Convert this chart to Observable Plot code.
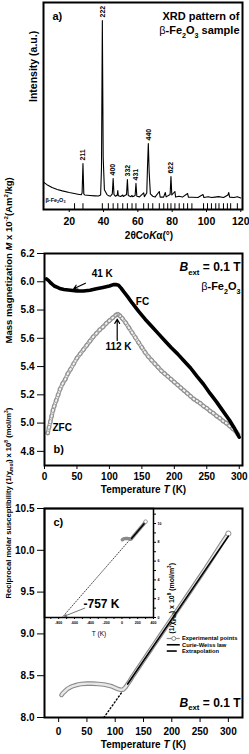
<!DOCTYPE html>
<html><head><meta charset="utf-8">
<script src="https://cdn.jsdelivr.net/npm/d3@7"></script>
<script src="https://cdn.jsdelivr.net/npm/@observablehq/plot@0.6"></script>
<style>
html,body{margin:0;padding:0;background:#fff;}
#chart{position:relative;width:249px;height:754px;overflow:hidden;}
#chart > div{position:absolute;left:0;}
</style></head><body><div id="chart"></div>
<script>
// ---------- Panel a: XRD pattern ----------
const xrdTwoTheta = [5,7,10,13,16,20,23,25,27,27.5,28,28.5,29,32,35,37,38.3,38.8,39.3,39.8,40.5,42,43,44,45.1,45.6,46.1,47,48,48.3,48.6,50,51.2,51.5,53.4,53.9,54.4,56,56.6,57,58.4,58.9,59.4,61,63.4,63.8,65.2,65.6,66.1,66.6,67.3,68.7,70,72.5,73,75,76,76.5,78.8,79.3,79.8,81.6,82,84,86,89,89.5,92,95,98,98.5,101,103,105,107,110,112.5,113,113.5,116,118,120];
const xrdIntensity = [132,120,106,97,90,82,77,74,71,80,222,75,70,68,66,65,70,200,913,250,95,72,66,64,75,150,72,64,70,92,66,63,70,63,72,145,68,62,68,62,68,126,64,61,80,62,80,200,319,180,75,64,60,87,60,60,82,61,72,159,70,87,60,64,60,77,59,59,58,72,58,62,58,60,62,58,70,82,60,58,62,56];
const peakHKL = ["211","222","400","332","431","440","622"];
const peakPos = [28.0,39.3,45.6,53.9,58.9,66.1,79.3];
const peakTop = [222,913,150,145,126,319,159];
const refLines = [23.1,28.0,39.3,42.8,45.6,48.3,51.2,53.9,56.6,58.9,63.4,66.1,68.7,72.5,75.1,77.4,79.3,81.6,84.1,86.7,89.0,91.5,98.3,100.6,102.9,105.4,107.3,109.9,112.2,114.1,118.0];
const xTicksA = [20,40,60,80,100,120];

// ---------- Panel b: FC / ZFC magnetization ----------
const fcT = [3,6,10,15,20,25,30,40,50,60,70,80,90,100,106,110,114,118,122,128,135,145,155,165,175,185,195,205,215,225,235,245,255,265,275,285,293,300];
const fcM = [6.02,6.01,5.99,5.97,5.96,5.95,5.945,5.94,5.935,5.935,5.94,5.95,5.96,5.97,5.98,5.98,5.975,5.955,5.93,5.895,5.85,5.79,5.735,5.685,5.635,5.585,5.535,5.49,5.44,5.39,5.33,5.275,5.21,5.15,5.085,5.02,4.96,4.90];
const zfcT = [5,7,9,11,13,15,18,21,24,28,32,36,40,45,50,55,60,65,70,75,80,85,90,95,100,105,110,113,116,120,125,130,135,140,145,150,155,160,165,170,175,180,185,190,195,200,205,210,215,220,225,230,235,240,245,250,255,260,265,270,275,280,285,290,295,298];
const zfcM = [4.93,4.97,5.01,5.05,5.09,5.12,5.16,5.20,5.24,5.28,5.31,5.35,5.38,5.42,5.46,5.49,5.52,5.55,5.58,5.61,5.635,5.66,5.68,5.705,5.725,5.745,5.765,5.77,5.76,5.74,5.71,5.675,5.64,5.605,5.57,5.535,5.50,5.47,5.445,5.42,5.395,5.37,5.35,5.33,5.31,5.29,5.27,5.25,5.23,5.21,5.19,5.17,5.155,5.14,5.12,5.105,5.085,5.07,5.05,5.035,5.015,5.00,4.98,4.96,4.94,4.92];
const xTicksB = [0,50,100,150,200,250,300];
const yTicksB = [4.8,5.0,5.2,5.4,5.6,5.8,6.0,6.2];

// ---------- Panel c: reciprocal susceptibility ----------
const expT = [5,8,12,16,20,25,30,35,40,50,60,70,80,90,95,100,105,110,114,118,122,126,130,140,150,160,170,180,190,200,210,220,230,240,250,260,270,280,290,300];
const expInv = [8.27,8.295,8.32,8.345,8.36,8.375,8.385,8.395,8.40,8.405,8.405,8.40,8.395,8.38,8.37,8.355,8.34,8.33,8.335,8.36,8.40,8.44,8.485,8.585,8.685,8.785,8.885,8.985,9.085,9.185,9.285,9.385,9.485,9.585,9.685,9.785,9.89,9.995,10.10,10.20];
const cwT = [122,300];
const cwInv = [8.40,10.17];
const extrapT = [80,122];
const extrapInv = [8.0,8.40];
const insetExtrapT = [-757,300];
const insetExtrapInv = [0,10.2];
const xTicksC = [0,50,100,150,200,250,300];
const yTicksC = [8.0,8.5,9.0,9.5,10.0,10.5];
const insetXTicks = [-900,-800,-700,-600,-500,-400,-300,-200,-100,0,100,200,300,400];
const insetYTicks = [0,1,2,3,4,5,6,7,8,9,10,11];
const legendLabels = ["Experimental points","Curie-Weiss law","Extrapolation"];

// ---------- helpers ----------
const FONT = '"Liberation Sans", Arial, Helvetica, sans-serif';
const zip = (a, b, ka, kb) => a.map((v, i) => ({[ka]: v, [kb]: b[i]}));
function svgStyle(fs) {
  return {fontFamily: FONT, fontWeight: "bold", fontSize: fs + "px", background: "transparent", color: "black", overflow: "visible"};
}
// markup: *italic*, _{sub}, ^{sup}, ~normal weight~
function richify(svg) {
  d3.select(svg).selectAll("text").each(function() {
    if (this.querySelector("tspan")) return;
    const s = this.textContent;
    if (!/(\*|_\{|\^\{|~)/.test(s)) return;
    const fs = parseFloat(getComputedStyle(this).fontSize) || 10;
    const parts = s.split(/(\*[^*]*\*|_\{[^}]*\}|\^\{[^}]*\}|~[^~]*~)/).filter(p => p !== "");
    this.textContent = "";
    let shift = 0;
    for (const p of parts) {
      const ts = document.createElementNS("http://www.w3.org/2000/svg", "tspan");
      let target = 0, txt = p, small = false, italic = false, normal = false;
      if (p.startsWith("*")) { txt = p.slice(1, -1); italic = true; }
      else if (p.startsWith("~")) { txt = p.slice(1, -1); normal = true; }
      else if (p.startsWith("_{")) { txt = p.slice(2, -1); target = 0.3 * fs; small = true; }
      else if (p.startsWith("^{")) { txt = p.slice(2, -1); target = -0.38 * fs; small = true; }
      const d = target - shift;
      if (d) ts.setAttribute("dy", d.toFixed(2));
      shift = target;
      if (small) ts.setAttribute("font-size", (0.65 * fs).toFixed(2));
      if (italic) ts.setAttribute("font-style", "italic");
      if (normal) ts.setAttribute("font-weight", "normal");
      ts.textContent = txt;
      this.appendChild(ts);
    }
  });
}
const chart = document.getElementById("chart");
function place(svg, top) {
  const d = document.createElement("div");
  d.style.top = top + "px";
  d.appendChild(svg);
  chart.appendChild(d);
  richify(svg);
}

// ---------- Panel a ----------
const xrd = zip(xrdTwoTheta, xrdIntensity, "t", "I");
const peaks = peakHKL.map((h, i) => ({h, t: peakPos[i], I: peakTop[i]}));
const pa = Plot.plot({
  width: 249, height: 245,
  marginLeft: 43, marginRight: 7, marginTop: 2, marginBottom: 36,
  style: svgStyle(10.5),
  x: {domain: [5, 121], ticks: xTicksA, tickSize: 3, tickPadding: 5, label: null},
  y: {domain: [0, 1000], axis: null},
  marks: [
    Plot.ruleX(refLines, {x: d => d, y1: 0, y2: 28, stroke: "black", strokeWidth: 1}),
    Plot.line(xrd, {x: "t", y: "I", stroke: "black", strokeWidth: 1.1}),
    Plot.text(peaks, {x: "t", y: "I", text: "h", rotate: -90, textAnchor: "start", dy: -3, fontSize: 7}),
    Plot.frame({stroke: "black", strokeWidth: 2}),
    Plot.text(["a)"], {frameAnchor: "top-left", dx: 9, dy: 10, fontSize: 11}),
    Plot.text(["XRD pattern of"], {frameAnchor: "top-right", dx: -3, dy: 10, textAnchor: "end", fontSize: 11}),
    Plot.text(["~β~-Fe_{2}O_{3} sample"], {frameAnchor: "top-right", dx: -3, dy: 24, textAnchor: "end", fontSize: 11}),
    Plot.text(["β-Fe_{2}O_{3}"], {frameAnchor: "bottom-left", dx: 2, dy: -8, textAnchor: "start", fontSize: 5.5}),
    Plot.text(["Intensity (a.u.)"], {frameAnchor: "left", dx: -10, dy: -4, rotate: -90, fontSize: 10.5}),
    Plot.text(["2θCo*K*α(°)"], {frameAnchor: "bottom", dx: 6, dy: 29, fontSize: 10})
  ]
});
place(pa, 0);

// ---------- Panel b ----------
const fc = zip(fcT, fcM, "T", "M");
const zfc = zip(zfcT, zfcM, "T", "M");
const pb = Plot.plot({
  width: 249, height: 262,
  marginLeft: 44, marginRight: 7, marginTop: 13, marginBottom: 37,
  style: svgStyle(10),
  x: {domain: [0, 305], ticks: xTicksB, tickSize: 4, tickPadding: 3, label: null},
  y: {domain: [4.7, 6.2], ticks: yTicksB, tickFormat: d3.format(".1f"), tickSize: 7, tickPadding: 3, label: null},
  marks: [
    Plot.line(zfc, {x: "T", y: "M", stroke: "#9a9a9a", strokeWidth: 4.2, strokeLinejoin: "round", strokeLinecap: "round"}),
    Plot.line(zfc, {x: "T", y: "M", stroke: "#f2f2f2", strokeWidth: 2, strokeLinejoin: "round", strokeLinecap: "round"}),
    Plot.dot(zfc, {x: "T", y: "M", r: 2, stroke: "#8a8a8a", fill: "none", strokeWidth: 0.8}),
    Plot.line(fc, {x: "T", y: "M", stroke: "black", strokeWidth: 3.6, strokeLinejoin: "round"}),
    Plot.arrow([0], {x1: 63, y1: 5.99, x2: 45, y2: 5.95, stroke: "black", strokeWidth: 1.2, headLength: 6}),
    Plot.arrow([0], {x1: 112, y1: 5.585, x2: 112, y2: 5.735, stroke: "black", strokeWidth: 1.2, headLength: 6}),
    Plot.text(["41 K"], {x: 89, y: 6.058, fontSize: 10}),
    Plot.text(["FC"], {x: 151, y: 5.86, fontSize: 10}),
    Plot.text(["112 K"], {x: 114, y: 5.54, fontSize: 10}),
    Plot.text(["ZFC"], {x: 12.3, y: 4.97, textAnchor: "start", fontSize: 10}),
    Plot.frame({stroke: "black", strokeWidth: 2}),
    Plot.text(["b)"], {frameAnchor: "bottom-left", dx: 9, dy: -13, fontSize: 11}),
    Plot.text(["*B*_{ext} = 0.1 T"], {frameAnchor: "top-right", dx: -2, dy: 9, textAnchor: "end", fontSize: 12}),
    Plot.text(["~β~-Fe_{2}O_{3}"], {frameAnchor: "top-right", dx: -2, dy: 29, textAnchor: "end", fontSize: 11}),
    Plot.text(["Temperature *T* (K)"], {frameAnchor: "bottom", dy: 27, fontSize: 10}),
    Plot.text(["Mass magnetization *M* x 10^{-2}(Am^{2}/kg)"], {frameAnchor: "left", dx: -36, dy: -16, rotate: -90, fontSize: 9.5})
  ]
});
place(pb, 240);

// ---------- Panel c (main) ----------
const exp = zip(expT, expInv, "T", "v");
const cw = zip(cwT, cwInv, "T", "v");
const ex = zip(extrapT, extrapInv, "T", "v");
const lastExp = [exp[exp.length - 1]];
const legendRows = legendLabels.map((label, i) => ({label, v: [8.945, 8.87, 8.795][i]}));
const pc = Plot.plot({
  width: 249, height: 254,
  marginLeft: 44, marginRight: 7, marginTop: 8, marginBottom: 37,
  style: svgStyle(10),
  x: {domain: [-25, 325], ticks: xTicksC, tickSize: 5, tickPadding: 5, label: null},
  y: {domain: [8.0, 10.5], ticks: yTicksC, tickFormat: d3.format(".1f"), tickSize: 7, tickPadding: 3, label: null},
  marks: [
    Plot.line(ex, {x: "T", y: "v", stroke: "black", strokeWidth: 1.4, strokeDasharray: "1.2,2.4"}),
    Plot.line(exp, {x: "T", y: "v", stroke: "#8a8a8a", strokeWidth: 4.6, strokeLinecap: "round", strokeLinejoin: "round"}),
    Plot.line(exp, {x: "T", y: "v", stroke: "#e8e8e8", strokeWidth: 2.4, strokeLinecap: "round", strokeLinejoin: "round"}),
    Plot.dot(lastExp, {x: "T", y: "v", r: 2.6, stroke: "#8a8a8a", fill: "white", strokeWidth: 1}),
    Plot.line(cw, {x: "T", y: "v", stroke: "black", strokeWidth: 1.6}),
    // legend
    Plot.ruleY(legendRows.slice(0, 1), {y: "v", x1: 192, x2: 215, stroke: "#8a8a8a", strokeWidth: 1.2}),
    Plot.dot(legendRows.slice(0, 1), {x: 203.5, y: "v", r: 2, stroke: "#8a8a8a", fill: "white", strokeWidth: 1}),
    Plot.ruleY(legendRows.slice(1, 2), {y: "v", x1: 192, x2: 215, stroke: "black", strokeWidth: 1.6}),
    Plot.ruleY(legendRows.slice(2, 3), {y: "v", x1: 192, x2: 215, stroke: "black", strokeWidth: 1.6, strokeDasharray: "10,8,3"}),
    Plot.text(legendRows, {x: 218, y: "v", text: "label", textAnchor: "start", fontSize: 5.8}),
    Plot.frame({stroke: "black", strokeWidth: 2}),
    Plot.text(["*B*_{ext} = 0.1 T"], {frameAnchor: "bottom-right", dx: -2, dy: -11, textAnchor: "end", fontSize: 12}),
    Plot.text(["Temperature *T* (K)"], {frameAnchor: "bottom", dy: 30, fontSize: 10}),
    Plot.text(["Reciprocal molar susceptibility (1/χ_{mol}) x 10^{8} (mol/m^{3})"], {frameAnchor: "left", dx: -36, dy: -14.5, rotate: -90, fontSize: 7.6})
  ]
});
place(pc, 500);

// ---------- Panel c (inset) ----------
const iex = zip(insetExtrapT, insetExtrapInv, "T", "v");
const pi = Plot.plot({
  width: 200, height: 145,
  marginLeft: 44, marginRight: 47, marginTop: 8, marginBottom: 28,
  style: svgStyle(3.6),
  x: {domain: [-980, 400], ticks: insetXTicks, tickFormat: d => d % 200 === 0 ? d : "", tickSize: 2, tickPadding: 2, label: null},
  y: {domain: [0, 11.6], axis: "right", ticks: insetYTicks, tickFormat: d => d % 2 === 0 ? d : "", tickSize: 2, tickPadding: 2, label: null},
  marks: [
    Plot.line(iex, {x: "T", y: "v", stroke: "#333", strokeWidth: 0.9, strokeDasharray: "1,1.6"}),
    Plot.line(exp, {x: "T", y: "v", stroke: "#8a8a8a", strokeWidth: 3.4, strokeLinecap: "round"}),
    Plot.line(cw, {x: "T", y: "v", stroke: "black", strokeWidth: 1.4}),
    Plot.dot(lastExp, {x: "T", y: "v", r: 1.8, stroke: "#8a8a8a", fill: "white", strokeWidth: 0.8}),
    Plot.arrow([0], {x1: -470, y1: 1.0, x2: -725, y2: 0.15, stroke: "#555", strokeWidth: 0.8, headLength: 4}),
    Plot.text(["-757 K"], {x: -486, y: 1.45, textAnchor: "start", fontSize: 12}),
    Plot.frame({stroke: "black", strokeWidth: 1.5}),
    Plot.text(["c)"], {frameAnchor: "top-left", dx: 9, dy: 10, fontSize: 11}),
    Plot.text(["T (K)"], {frameAnchor: "bottom", dy: 18, fontSize: 6.5, fontWeight: "normal"}),
    Plot.text(["(1/χ_{mol}) x 10^{8} (mol/m^{3})"], {frameAnchor: "right", dx: 18, rotate: -90, fontSize: 7})
  ]
});
place(pi, 500);
</script></body></html>
